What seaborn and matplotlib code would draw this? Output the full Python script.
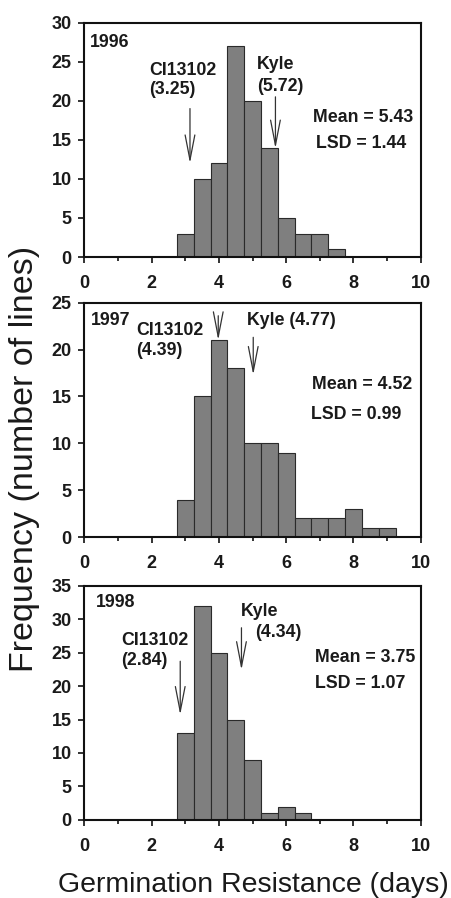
import pandas as pd
import seaborn as sns
import matplotlib.pyplot as plt

sns.set_style("ticks")
plt.rcParams["font.family"] = ["Liberation Sans", "DejaVu Sans"]

# Bin centres (days) and counts, bins 0.5 days wide
centers_1996 = [3.0, 3.5, 4.0, 4.5, 5.0, 5.5, 6.0, 6.5, 7.0, 7.5]
counts_1996 = [3, 10, 12, 27, 20, 14, 5, 3, 3, 1]

centers_1997 = [3.0, 3.5, 4.0, 4.5, 5.0, 5.5, 6.0, 6.5, 7.0, 7.5, 8.0, 8.5, 9.0]
counts_1997 = [4, 15, 21, 18, 10, 10, 9, 2, 2, 2, 3, 1, 1]

centers_1998 = [3.0, 3.5, 4.0, 4.5, 5.0, 5.5, 6.0, 6.5]
counts_1998 = [13, 32, 25, 15, 9, 1, 2, 1]

years = ["1996", "1997", "1998"]
ymax = [30, 25, 35]
means = ["5.43", "4.52", "3.75"]
lsds = ["1.44", "0.99", "1.07"]
ci_value = ["3.25", "4.39", "2.84"]
kyle_value = ["5.72", "4.77", "4.34"]

# arrows: (x, y_top, y_tip)
ci_arrow = [(3.14, 19.0, 12.0), (3.98, 23.6, 21.0), (2.85, 23.7, 15.7)]
kyle_arrow = [(5.68, 20.5, 13.9), (5.02, 21.3, 17.3), (4.67, 28.7, 22.4)]

data = [(centers_1996, counts_1996), (centers_1997, counts_1997),
        (centers_1998, counts_1998)]

fig = plt.figure(figsize=(4.51, 8.98), dpi=100)
bottoms = [0.7138, 0.402, 0.0869]
axes = [fig.add_axes([0.187, b, 0.746, 0.261]) for b in bottoms]

bold = dict(fontweight="bold", fontsize=12.8, color="#1a1a1a")
arrow_kw = dict(arrowstyle="->,head_length=1.8,head_width=0.35",
                color="#333333", lw=0.9, shrinkA=0, shrinkB=0)

for i, ax in enumerate(axes):
    x, w = data[i]
    df = pd.DataFrame({"days": x, "n": w})
    sns.histplot(data=df, x="days", weights="n", binwidth=0.5,
                 binrange=(min(x) - 0.25, max(x) + 0.25), ax=ax,
                 color="#7f7f7f", edgecolor="#2a2a2a", linewidth=0.8, alpha=1)
    ax.set_xlim(0, 10)
    ax.set_ylim(0, ymax[i])
    ax.set_xticks(range(0, 11, 2))
    ax.set_xticks(range(1, 10, 2), minor=True)
    ax.set_yticks(range(0, ymax[i] + 1, 5))
    ax.set_xlabel("")
    ax.set_ylabel("")
    for s in ax.spines.values():
        s.set_visible(True)
        s.set_linewidth(1.5)
        s.set_color("#111111")
    ax.tick_params(which="both", direction="out", width=1.2, color="#111111")
    ax.tick_params(which="major", length=4, labelsize=13)
    ax.tick_params(axis="x", which="major", pad=9)
    ax.tick_params(axis="y", which="major", pad=5)
    ax.tick_params(which="minor", length=3)
    for lab in ax.get_xticklabels() + ax.get_yticklabels():
        lab.set_fontweight("bold")
        lab.set_color("#1a1a1a")

    cx, cy0, cy1 = ci_arrow[i]
    kx, ky0, ky1 = kyle_arrow[i]
    ax.annotate("", xy=(cx, cy1), xytext=(cx, cy0), arrowprops=arrow_kw)
    ax.annotate("", xy=(kx, ky1), xytext=(kx, ky0), arrowprops=arrow_kw)

axes[0].text(0.15, 27.4, years[0], va="center", **bold)
axes[0].text(1.93, 23.9, "CI13102", va="center", **bold)
axes[0].text(1.93, 21.5, "(" + ci_value[0] + ")", va="center", **bold)
axes[0].text(5.14, 24.6, "Kyle", va="center", **bold)
axes[0].text(5.14, 21.8, "(" + kyle_value[0] + ")", va="center", **bold)
axes[0].text(8.29, 17.9, "Mean = " + means[0], ha="center", va="center", **bold)
axes[0].text(8.24, 14.5, "LSD = " + lsds[0], ha="center", va="center", **bold)

axes[1].text(0.19, 23.1, years[1], va="center", **bold)
axes[1].text(1.55, 22.05, "CI13102", va="center", **bold)
axes[1].text(1.55, 19.85, "(" + ci_value[1] + ")", va="center", **bold)
axes[1].text(4.84, 23.05, "Kyle (" + kyle_value[1] + ")", va="center", **bold)
axes[1].text(8.27, 16.3, "Mean = " + means[1], ha="center", va="center", **bold)
axes[1].text(8.09, 13.1, "LSD = " + lsds[1], ha="center", va="center", **bold)

axes[2].text(0.33, 32.4, years[2], va="center", **bold)
axes[2].text(1.09, 26.8, "CI13102", va="center", **bold)
axes[2].text(1.09, 23.8, "(" + ci_value[2] + ")", va="center", **bold)
axes[2].text(4.65, 31.2, "Kyle", va="center", **bold)
axes[2].text(5.09, 28.0, "(" + kyle_value[2] + ")", va="center", **bold)
axes[2].text(8.35, 24.2, "Mean = " + means[2], ha="center", va="center", **bold)
axes[2].text(8.19, 20.4, "LSD = " + lsds[2], ha="center", va="center", **bold)

fig.text(0.055, 0.489, "Frequency (number of lines)", rotation=90,
         ha="center", va="center", fontsize=24.5, color="#1a1a1a")
fig.text(0.561, 0.0145, "Germination Resistance (days)", ha="center",
         va="center", fontsize=20.5, color="#1a1a1a")

fig.savefig("out.png", dpi=100)
